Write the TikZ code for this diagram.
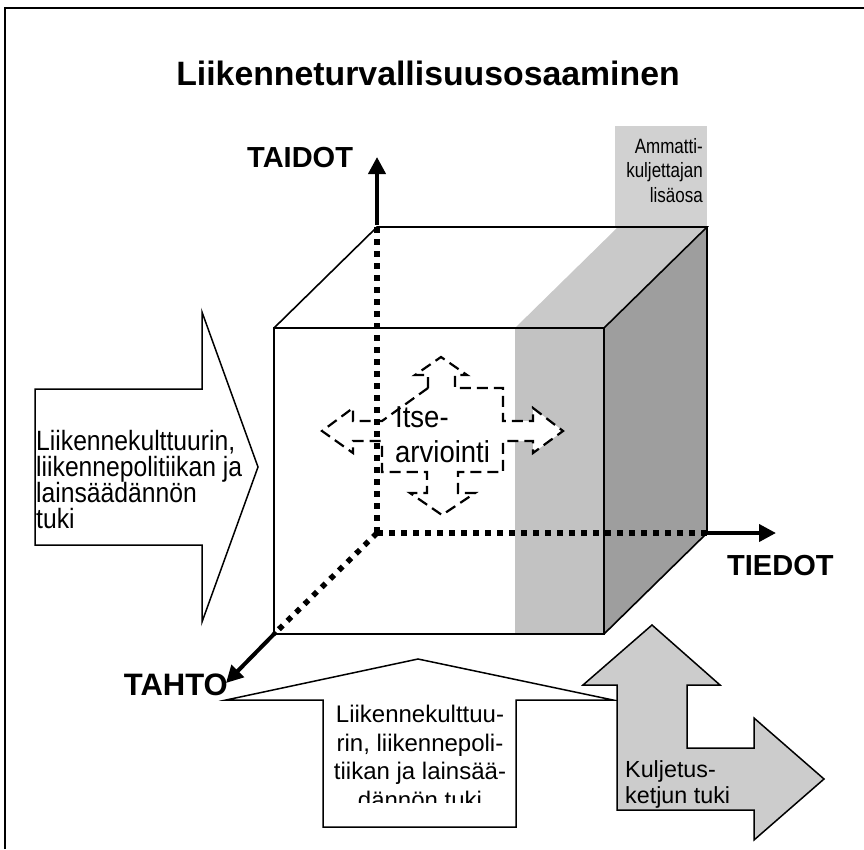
\documentclass[tikz,border=0pt]{standalone}
\usepackage{fontspec}
\usepackage{graphicx}
\setmainfont{Liberation Sans}
\usetikzlibrary{arrows.meta}
\definecolor{stripeF}{gray}{0.76}
\definecolor{stripeT}{gray}{0.79}
\definecolor{labelbox}{gray}{0.82}
\definecolor{sideface}{gray}{0.62}
\definecolor{grayarrow}{gray}{0.80}
\begin{document}
\begin{tikzpicture}[x=1pt,y=-1pt,
  edge/.style={line width=1.6pt, line join=miter},
  hidden/.style={line width=5.5pt, dash pattern=on 5.5pt off 6.5pt},
  axisarrow/.style={line width=4pt, -{Triangle[length=17pt,width=17pt]}},
  axlbl/.style={font=\bfseries\fontsize{29}{30}\selectfont, inner sep=0pt},
  txt/.style={inner sep=0pt},
  outl/.style={line width=1.5pt, line join=miter},
  crossdash/.style={line width=2.2pt, dash pattern=on 11pt off 6pt, fill=white},
]
\useasboundingbox (0,0) rectangle (864,849);
% frame
\draw[line width=1.3pt] (5,849) -- (5,8) -- (864,8);
% title
\node[txt, anchor=base, font=\bfseries\fontsize{33.8}{36}\selectfont] (title) at (428,85) {Liikenneturvallisuusosaaminen};

% cube corners
\coordinate (FTL) at (274,328); \coordinate (FTR) at (604,328);
\coordinate (FBL) at (274,634); \coordinate (FBR) at (604,634);
\coordinate (BTL) at (377,227); \coordinate (BTR) at (707,227);
\coordinate (BBL) at (377,533); \coordinate (BBR) at (707,533);

% professional-driver extension
\fill[labelbox] (615,126) rectangle (707,227);
\fill[stripeF] (515,328) rectangle (FBR);
\fill[stripeT] (515,328) -- (FTR) -- (BTR) -- (618,227) -- cycle;
\fill[sideface] (FTR) -- (BTR) -- (BBR) -- (FBR) -- cycle;
\node[txt, anchor=base east] (am1) at (703,153) {\scalebox{1}[1.22]{\fontsize{17}{20}\selectfont Ammatti-}};
\node[txt, anchor=base east] (am2) at (703,177) {\scalebox{1}[1.22]{\fontsize{17}{20}\selectfont kuljettajan}};
\node[txt, anchor=base east] (am3) at (703,202) {\scalebox{1}[1.22]{\fontsize{17}{20}\selectfont lisäosa}};

% cube edges
\draw[edge] (FTL) rectangle (FBR);
\draw[edge] (FTL) -- (BTL) -- (BTR) -- (FTR);
\draw[edge] (BTR) -- (BBR) -- (FBR);

% self-assessment cross
\draw[crossdash] (428,388) -- (428,375) -- (415,375) -- (441,357) -- (467,375) -- (455,375) -- (455,388)
 -- (503,388) -- (503,421) -- (533,421) -- (533,408) -- (563,431) -- (533,453) -- (533,441) -- (503,441)
 -- (503,472) -- (458,472) -- (458,493) -- (475,493) -- (442,515) -- (410,493) -- (427,493) -- (427,472)
 -- (382,472) -- (382,441) -- (353,441) -- (353,453) -- (322,431) -- (353,408) -- (353,421) -- (382,421) -- cycle;
\node[txt, anchor=base west] (it1) at (395,427) {\scalebox{1}[1.1]{\fontsize{27.5}{30}\selectfont Itse-}};
\node[txt, anchor=base west] (it2) at (395,462) {\scalebox{1}[1.1]{\fontsize{27.5}{30}\selectfont arviointi}};

% hidden axes
\draw[hidden] (BTL) -- (BBL);
\draw[hidden] (BBL) -- (BBR);
\draw[hidden] (BBL) -- (FBL);

% axis arrows
\coordinate (taidotEnd) at (377,157);
\coordinate (tiedotEnd) at (776,533);
\coordinate (tahtoEnd) at (226,683);
\draw[axisarrow] ([yshift=2pt]BTL) -- (taidotEnd);
\draw[axisarrow] ([xshift=-2pt]BBR) -- (tiedotEnd);
\draw[axisarrow] (276,632) -- (tahtoEnd);
\node[axlbl, anchor=base west] (taidot) at (247,167) {TAIDOT};
\node[axlbl, anchor=base west] (tiedot) at (727,575) {TIEDOT};
\node[axlbl, anchor=base east, font=\bfseries\fontsize{31}{32}\selectfont] (tahto) at (228,695) {TAHTO};

% left support arrow
\draw[outl, fill=white] (35,389) -- (202,389) -- (202,312) -- (258,467) -- (202,622) -- (202,545) -- (35,545) -- cycle;
\node[txt, anchor=base west] (lt1) at (36,450) {\scalebox{1}[1.13]{\fontsize{24.7}{26}\selectfont Liikennekulttuurin,}};
\node[txt, anchor=base west] (lt2) at (36,476) {\scalebox{1}[1.13]{\fontsize{24.7}{26}\selectfont liikennepolitiikan ja}};
\node[txt, anchor=base west] (lt3) at (36,502) {\scalebox{1}[1.13]{\fontsize{24.7}{26}\selectfont lainsäädännön}};
\node[txt, anchor=base west] (lt4) at (36,528) {\scalebox{1}[1.13]{\fontsize{24.7}{26}\selectfont tuki}};

% bottom support arrow
\draw[outl, fill=white] (323,827) -- (323,700) -- (226,700) -- (418,659) -- (613,700) -- (516,700) -- (516,827) -- cycle;
\begin{scope}
\clip (323,659) rectangle (516,802);
\node[txt, anchor=base] (bt1) at (420,722) {\fontsize{24}{26}\selectfont Liikennekulttuu-};
\node[txt, anchor=base] (bt2) at (420,751) {\fontsize{24}{26}\selectfont rin, liikennepoli-};
\node[txt, anchor=base] (bt3) at (420,779) {\fontsize{24}{26}\selectfont tiikan ja lainsää-};
\node[txt, anchor=base] (bt4) at (420,808) {\fontsize{24}{26}\selectfont dännön tuki};
\end{scope}

% transport chain arrow
\draw[outl, fill=grayarrow] (652,625) -- (720,685) -- (687,685) -- (687,748) -- (754,748) -- (754,718) -- (824,779)
 -- (754,840) -- (754,810) -- (617,810) -- (617,685) -- (583,685) -- cycle;
\node[txt, anchor=base west] (kt1) at (625,777) {\fontsize{23.3}{26}\selectfont Kuljetus-};
\node[txt, anchor=base west] (kt2) at (625,803) {\fontsize{23.3}{26}\selectfont ketjun tuki};
\end{tikzpicture}
\end{document}
